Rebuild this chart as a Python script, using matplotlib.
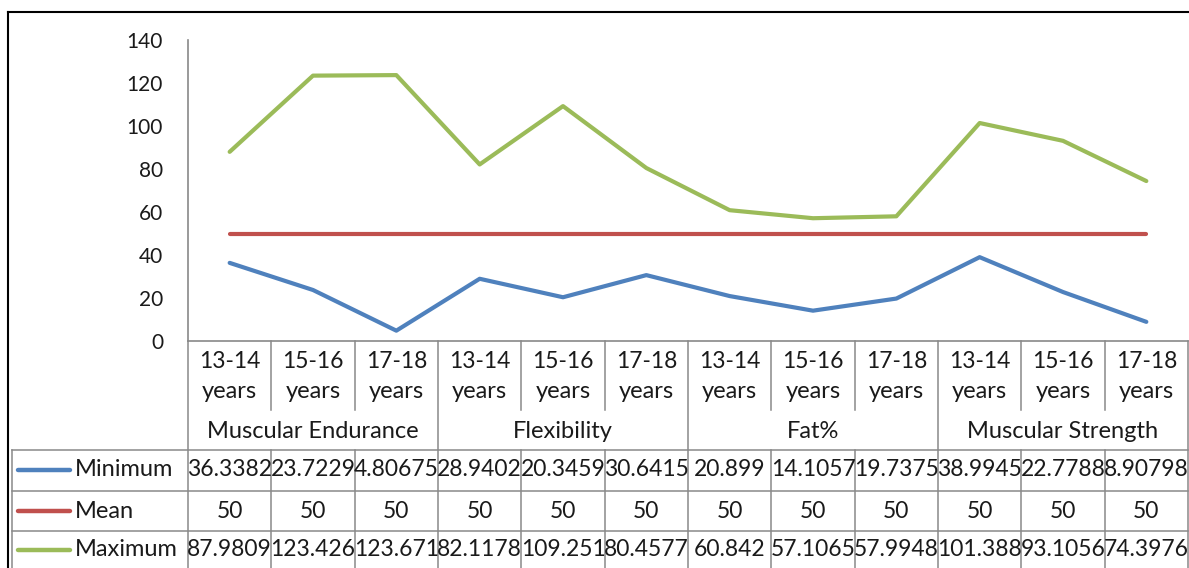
import matplotlib
matplotlib.use("Agg")
import matplotlib.pyplot as plt
from matplotlib import transforms
from matplotlib.lines import Line2D

# ---------------- data ----------------
ages = ["13-14\nyears", "15-16\nyears", "17-18\nyears"]
groups = ["Muscular Endurance", "Flexibility", "Fat%", "Muscular Strength"]
series_names = ["Minimum", "Mean", "Maximum"]
minimum = [36.3382, 23.7229, 4.80675, 28.9402, 20.3459, 30.6415,
           20.899, 14.1057, 19.7375, 38.9945, 22.7788, 8.90798]
mean = [50, 50, 50, 50, 50, 50, 50, 50, 50, 50, 50, 50]
maximum = [87.9809, 123.426, 123.671, 82.1178, 109.251, 80.4577,
           60.842, 57.1065, 57.9948, 101.388, 93.1056, 74.3976]
minimum_labels = ["36.3382", "23.7229", "4.80675", "28.9402", "20.3459", "30.6415",
                  "20.899", "14.1057", "19.7375", "38.9945", "22.7788", "8.90798"]
mean_labels = ["50"] * 12
maximum_labels = ["87.9809", "123.426", "123.671", "82.1178", "109.251", "80.4577",
                  "60.842", "57.1065", "57.9948", "101.388", "93.1056", "74.3976"]
colors = ["#4F81BD", "#C0504D", "#9BBB59"]
yticks = [0, 20, 40, 60, 80, 100, 120, 140]

W, H = 1189, 568
FONT = "Lato"
FS_TICK = 15
FS_NUM = 16.5
FS_WORD = 17
TXT = "#1a1a1a"
GRID = "#898989"

def fx(px):
    return px / W

def fy(py):
    return 1 - py / H

fig = plt.figure(figsize=(W / 100, H / 100), dpi=100)
fig.patch.set_facecolor("white")

ax = fig.add_axes([fx(188), fy(341), fx(1188) - fx(188), fy(40) - fy(341)])
n = len(minimum)
x = list(range(n))
ax.set_xlim(-0.5, n - 0.5)
ax.set_ylim(0, 140)

for vals, c in zip([minimum, mean, maximum], colors):
    ax.plot(x, vals, color=c, lw=3.0, solid_joinstyle="round",
            solid_capstyle="round", clip_on=False, zorder=3)

for s in ["top", "right"]:
    ax.spines[s].set_visible(False)
ax.spines["left"].set_color(GRID)
ax.spines["left"].set_linewidth(1.2)
ax.spines["bottom"].set_color(GRID)
ax.spines["bottom"].set_linewidth(1.2)
ax.set_xticks([])
ax.set_yticks(yticks)
ax.set_yticklabels([str(v) for v in yticks], fontfamily=FONT, fontsize=FS_TICK, color=TXT)
ax.tick_params(axis="y", length=0, pad=18)

# --------------- table ---------------
bt = transforms.blended_transform_factory(ax.transData, fig.transFigure)
line_kw = dict(color=GRID, lw=1.1, clip_on=False)

# vertical separators
for i in range(n + 1):
    xb = i - 0.5
    if i % 3 == 0:
        ax.add_line(Line2D([xb, xb], [fy(341), fy(568)], transform=bt, **line_kw))
    else:
        ax.add_line(Line2D([xb, xb], [fy(341), fy(410)], transform=bt, **line_kw))
        ax.add_line(Line2D([xb, xb], [fy(450), fy(568)], transform=bt, **line_kw))

# horizontal lines of the data table
for py in [450, 491, 531]:
    fig.add_artist(Line2D([fx(12), fx(1188)], [fy(py), fy(py)], color=GRID, lw=1.1))
fig.add_artist(Line2D([fx(12), fx(12)], [fy(450), fy(568)], color=GRID, lw=1.1))

# category labels
for i in range(n):
    a1, a2 = ages[i % 3].split("\n")
    ax.text(i, fy(361), a1, transform=bt, ha="center", va="center",
            fontfamily=FONT, fontsize=FS_NUM, color=TXT)
    ax.text(i, fy(392), a2, transform=bt, ha="center", va="center",
            fontfamily=FONT, fontsize=FS_WORD, color=TXT)
for g, name in enumerate(groups):
    ax.text(3 * g + 1, fy(432), name, transform=bt, ha="center", va="center",
            fontfamily=FONT, fontsize=FS_WORD, color=TXT)

# data rows
row_y = [470, 511, 550]
for labels, ry in zip([minimum_labels, mean_labels, maximum_labels], row_y):
    for i, lab in enumerate(labels):
        ax.text(i, fy(ry), lab, transform=bt, ha="center", va="center",
                fontfamily=FONT, fontsize=FS_NUM, color=TXT)

# legend keys
for name, c, ry in zip(series_names, colors, row_y):
    fig.add_artist(Line2D([fx(18), fx(70)], [fy(ry), fy(ry)], color=c, lw=3.2,
                          solid_capstyle="round"))
    fig.text(fx(75), fy(ry), name, ha="left", va="center",
             fontfamily=FONT, fontsize=FS_WORD, color=TXT)

# outer frame
fig.add_artist(Line2D([fx(7.5), 1.0], [fy(12), fy(12)], color="black", lw=1.5))
fig.add_artist(Line2D([fx(7.5), fx(7.5)], [fy(12), 0.0], color="black", lw=1.5))

fig.savefig("out.png", dpi=100, facecolor="white")
